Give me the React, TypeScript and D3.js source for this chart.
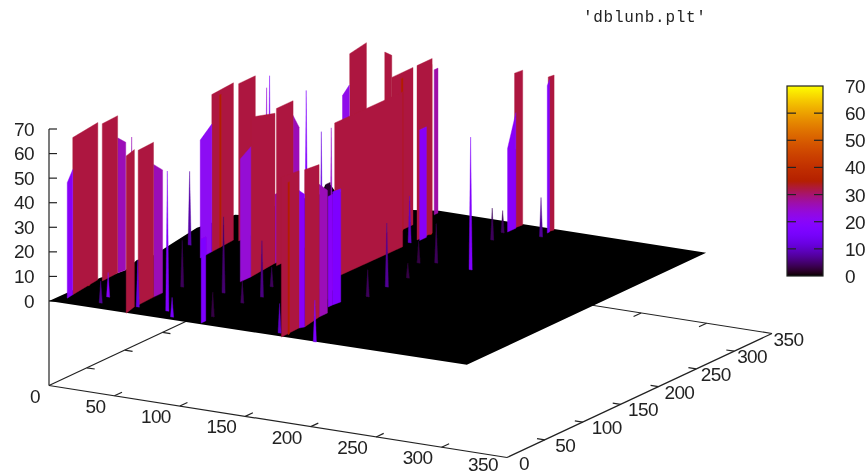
import React, { useRef, useEffect } from 'react';
import * as d3 from 'd3';

const titleText = "'dblunb.plt'";
const axisTicks = [0, 50, 100, 150, 200, 250, 300, 350];
const zTicks = [0, 10, 20, 30, 40, 50, 60, 70];

// outline of the z = 0 sheet, [x, y]
const floorOutline = [
  [0, 0], [1, 66], [5, 82], [6, 91], [0, 116], [4, 132], [0, 163], [-5, 204],
  [1, 244], [4, 245], [25, 317], [16, 337], [19, 339], [52, 301], [97, 313],
  [113, 320], [317, 320], [317, 4],
];

// tall ridges, [x0, y0, x1, y1, z0, z1]
const redWalls = [
  [6, 21, 2, 61, 64, 64], [6, 60, 5, 82, 64, 64], [59, 0, 56, 16, 64, 64],
  [56, 21, 55, 43, 63, 63], [33, 158, 31, 190, 64, 64], [35, 190, 35, 212, 64, 64],
  [86, 118, 83, 155, 65, 61], [87, 150, 87, 172, 64, 64], [177, 1, 176, 26, 65, 64],
  [178, 30, 174, 56, 64, 62], [135, 144, 136, 232, 63, 63], [62, 290, 58, 319, 64, 64],
  [83, 300, 82, 311, 65, 62], [115, 254, 115, 282, 64, 64], [136, 251, 136, 271, 71, 71],
  [177, 309, 178, 318, 63, 63], [201, 312, 202, 318, 63, 63],
];
const redLevel = 32.2;

// lower flanks, [x0, y0, x1, y1, z0, z1, colour level]
const sideWalls = [
  [7, 12, 6, 21, 47, 51, 20], [5, 82, 6, 91, 55, 52, 26], [55, 43, 55, 55, 54, 50, 26],
  [114, 4, 114, 10, 34, 34, 17], [34, 141, 33, 158, 48, 52, 21], [86, 104, 86, 118, 50, 53, 24],
  [83, 155, 83, 164, 28, 28, 25], [87, 172, 87, 180, 58, 52, 26], [176, 26, 178, 30, 56, 54, 20],
  [174, 56, 174, 67, 54, 50, 26], [157, 94, 157, 100, 47, 47, 2], [167, 80, 167, 86, 45, 45, 20],
  [167, 86, 168, 95, 46, 46, 17], [97, 220, 97, 229, 60, 63, 22], [115, 310, 115, 315, 59, 59, 27],
  [138, 251, 138, 260, 45, 45, 20], [178, 298, 178, 309, 34, 47, 20], [202, 309, 202, 312, 60, 62, 18],
  // darker bands on the ridges
  [4, 45, 4, 47, 62, 62, 35], [32, 170, 32, 172, 62, 62, 35], [36, 207, 36, 209, 62, 62, 35],
  [84, 136, 84, 138, 61, 61, 35], [178, 8, 178, 10, 62, 62, 35], [137, 266, 137, 269, 69, 69, 35],
  [116, 265, 116, 267, 62, 62, 35],
];

// single spikes, [x, y, z, colour level]
const spikes = [
  [203, 206, 54, 18], [176, 142, 26, 7], [135, 243, 19, 10], [165, 203, 9, 3], [175, 209, 16, 4],
  [177, 115, 11, 4], [177, 168, 6, 3], [179, 276, 13, 4], [176, 295, 9, 4], [203, 299, 16, 7],
  [12, 165, 30, 8], [59, 74, 19, 4], [90, 75, 31, 5], [113, 60, 9, 4], [117, 79, 23, 6],
  [113, 21, 10, 3], [110, 104, 8, 4], [171, 9, 12, 10], [202, 2, 17, 17], [82, 198, 64, 18],
  [141, 116, 64, 12], [43, 217, 64, 18], [50, 201, 62, 24], [148, 117, 66, 25], [3, 104, 52, 26],
  [80, 18, 57, 18], [29, 28, 10, 20], [32, 13, 9, 7], [58, 17, 19, 12], [90, 7, 8, 16],
];

const width = 867;
const height = 476;
const labelFont = '"Liberation Sans", Arial, sans-serif';

const xRight = d3.scaleLinear().domain([0, 350]).range([0, 458]);
const xDown = d3.scaleLinear().domain([0, 350]).range([0, 72]);
const yRight = d3.scaleLinear().domain([0, 350]).range([0, 265]);
const yDown = d3.scaleLinear().domain([0, 350]).range([0, -124]);
const zUp = d3.scaleLinear().domain([0, 70]).range([0, 172]);
const zBase = zUp.invert(-84.5);

const project = (x: number, y: number, z = 0): [number, number] => [
  49 + xRight(x) + yRight(y),
  301 + xDown(x) + yDown(y) - zUp(z),
];

// pm3d default palette (rgbformulae 7,5,15)
const palette = (v: number) => {
  const g = Math.max(0, Math.min(1, v / 70));
  const b = Math.max(0, Math.sin(2 * Math.PI * g));
  return d3.rgb(255 * Math.sqrt(g), 255 * g * g * g, 255 * b).formatHex();
};

const App = () => {
  const svgRef = useRef<SVGSVGElement>(null);

  useEffect(() => {
    const svg = d3.select(svgRef.current);
    svg.selectAll('*').remove();
    const poly = d3.line();

    const defs = svg.append('defs');
    defs.append('filter').attr('id', 'soft')
      .append('feGaussianBlur').attr('stdDeviation', 0.6);
    defs.append('filter').attr('id', 'softText')
      .append('feGaussianBlur').attr('stdDeviation', 0.3);
    defs.append('linearGradient').attr('id', 'cbFill')
      .attr('x1', 0).attr('y1', 1).attr('x2', 0).attr('y2', 0)
      .selectAll('stop')
      .data(d3.range(0, 70.5, 1))
      .join('stop')
      .attr('offset', d => d / 70)
      .attr('stop-color', d => palette(d));

    // base frame
    const frame = svg.append('g').attr('fill', 'none').attr('stroke', '#222').attr('stroke-width', 1.2);
    const seg = (a: [number, number], b: [number, number]) =>
      frame.append('path').attr('d', poly([a, b]));
    seg(project(0, 0, zBase), project(350, 0, zBase));
    seg(project(350, 0, zBase), project(350, 350, zBase));
    seg(project(0, 0, zBase), project(0, 350, zBase));
    seg(project(0, 350, zBase), project(350, 350, zBase));
    seg(project(0, 0, zBase), project(0, 0, 70));
    axisTicks.slice(1, -1).forEach(t => {
      seg(project(t, 0, zBase), project(t, 10, zBase));
      seg(project(t, 350, zBase), project(t, 340, zBase));
      seg(project(0, t, zBase), project(6, t, zBase));
      seg(project(350, t, zBase), project(344, t, zBase));
    });
    zTicks.forEach(t => {
      const [px, py] = project(0, 0, t);
      seg([px, py], [px + 8, py]);
    });

    // surface
    const surface = svg.append('g').attr('filter', 'url(#soft)');
    surface.append('path')
      .attr('d', poly(floorOutline.map(([x, y]) => project(x, y))) + 'Z')
      .attr('fill', '#000');

    const walls = [
      ...redWalls.map(w => ({ w, level: redLevel })),
      ...sideWalls.map(w => ({ w, level: w[6] })),
    ].map(({ w, level }) => {
      const [x0, y0, x1, y1, z0, z1] = w;
      return {
        depth: (project(x0, y0)[1] + project(x1, y1)[1]) / 2,
        level,
        pts: [project(x0, y0), project(x1, y1), project(x1, y1, z1), project(x0, y0, z0)],
      };
    });
    const peaks = spikes.map(([x, y, z, level]) => ({
      depth: project(x, y)[1],
      level,
      pts: [project(x - 1.2, y), project(x + 1.2, y), project(x, y, z)],
    }));

    surface.selectAll('path.mark')
      .data([...walls, ...peaks].sort((a, b) => d3.ascending(a.depth, b.depth)))
      .join('path')
      .attr('class', 'mark')
      .attr('d', d => poly(d.pts) + 'Z')
      .attr('fill', d => palette(d.level))
      .attr('stroke', d => palette(d.level))
      .attr('stroke-width', 0.4);

    // axis labels
    const labels = svg.append('g')
      .attr('font-family', labelFont)
      .attr('font-size', 19)
      .attr('letter-spacing', -0.6)
      .attr('fill', '#222')
      .attr('filter', 'url(#softText)');
    zTicks.forEach(t => {
      const [px, py] = project(0, 0, t);
      labels.append('text').attr('x', px - 15).attr('y', py + 6.5).attr('text-anchor', 'end').text(t);
    });
    axisTicks.forEach(t => {
      const [px, py] = project(t, 0, zBase);
      labels.append('text').attr('x', px - 9).attr('y', Math.min(py + 17, height - 5)).attr('text-anchor', 'end').text(t);
      const [qx, qy] = project(350, t, zBase);
      labels.append('text').attr('x', qx + 12 - t * 0.03).attr('y', qy + 12).text(t);
    });

    // colour box
    const cbY = d3.scaleLinear().domain([0, 70]).range([276, 86]);
    const cb = svg.append('g');
    cb.append('rect').attr('x', 787).attr('y', 86).attr('width', 36).attr('height', 190)
      .attr('fill', 'url(#cbFill)').attr('stroke', '#222').attr('stroke-width', 1.2);
    zTicks.forEach(t => {
      if (t > 0 && t < 70) {
        cb.append('path').attr('d', poly([[787, cbY(t)], [796, cbY(t)]])).attr('stroke', '#222').attr('stroke-width', 1.2);
        cb.append('path').attr('d', poly([[814, cbY(t)], [823, cbY(t)]])).attr('stroke', '#222').attr('stroke-width', 1.2);
      }
      labels.append('text').attr('x', 845).attr('y', cbY(t) + 7).text(t);
    });

    svg.append('text')
      .attr('x', 583).attr('y', 22)
      .attr('font-family', '"Liberation Mono", monospace')
      .attr('font-size', 16)
      .attr('letter-spacing', 0.7)
      .attr('fill', '#222')
      .attr('filter', 'url(#softText)')
      .text(titleText);
  }, []);

  return (
    <svg
      ref={svgRef}
      width={width}
      height={height}
      viewBox={`0 0 ${width} ${height}`}
      style={{ position: 'absolute', left: 0, top: 0, background: '#fff' }}
    />
  );
};

export default App;
